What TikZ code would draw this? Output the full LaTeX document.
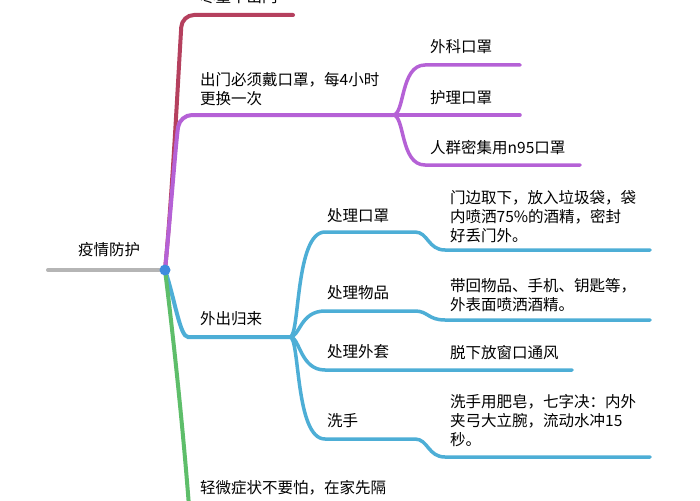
\documentclass[tikz,border=0pt]{standalone}
\usepackage{fontspec}
\setmainfont{Noto Sans CJK SC}
\begin{document}
\begin{tikzpicture}[x=1pt,y=-1pt,
  br/.style={line width=4pt,line cap=round,rounded corners=12pt},
  sub/.style={line width=3.5pt,line cap=round},
  lbl/.style={anchor=north west,inner sep=0pt,font=\fontsize{15.5}{19}\selectfont,align=left}]
\definecolor{cred}{HTML}{B5405E}
\definecolor{cpur}{HTML}{B561D6}
\definecolor{cblu}{HTML}{4DAED6}
\definecolor{cgrn}{HTML}{5EBE6A}
\definecolor{cgry}{HTML}{B5B5B5}
\useasboundingbox (0,0) rectangle (700,500);
\clip (0,0) rectangle (700,500);
\fill[white] (0,0) rectangle (700,500);
% root
\coordinate (root) at (165,270);
\coordinate (gl) at (48,270);
\draw[line width=4pt,cgry,line cap=round] (gl) -- (root);
\node[lbl] (rootl) at (78,242) {疫情防护};
% red
\coordinate (r1) at (293,15);
\draw[br,cred] (root) .. controls (172,200) and (178,80) .. (182,15) -- (r1);
\node[lbl] (rt) at (200,-11) {尽量不出门};
% purple
\coordinate (ph) at (393,115);
\draw[br,cpur] (root) .. controls (170,220) and (176,140) .. (180,115) -- (ph);
\node[lbl] (pt) at (200,72) {出门必须戴口罩，每4小时\\更换一次};
\coordinate (p1) at (520,65);\coordinate (p2) at (520,115);\coordinate (p3) at (580,165);
\draw[sub,cpur] (ph) .. controls (405,115) and (400,65) .. (425,65) -- (p1);
\draw[sub,cpur] (ph) -- (p2);
\draw[sub,cpur] (ph) .. controls (405,115) and (400,165) .. (425,165) -- (p3);
\node[lbl] (pa) at (430,39) {外科口罩};
\node[lbl] (pb) at (430,90) {护理口罩};
\node[lbl] (pc) at (430,140) {人群密集用n95口罩};
% blue
\coordinate (bh) at (290,337);
\draw[br,cblu] (root) .. controls (175,300) and (180,337) .. (200,337) -- (bh);
\node[lbl] (bt) at (200,311) {外出归来};
\coordinate (b1) at (650,250);\coordinate (b2) at (650,320);\coordinate (b3) at (572,370);\coordinate (b4) at (650,457);
\draw[sub,cblu] (bh) .. controls (300,337) and (295,232) .. (325,232) -- (415,232) .. controls (428,232) and (428,250) .. (445,250) -- (b1);
\draw[sub,cblu] (bh) .. controls (300,337) and (300,311) .. (325,311) -- (415,311) .. controls (428,311) and (428,320) .. (445,320) -- (b2);
\draw[sub,cblu] (bh) .. controls (300,337) and (300,370) .. (325,370) -- (b3);
\draw[sub,cblu] (bh) .. controls (300,337) and (295,439) .. (325,439) -- (415,439) .. controls (428,439) and (428,457) .. (445,457) -- (b4);
\node[lbl] (ba) at (327,208) {处理口罩};
\node[lbl] (bb) at (327,285) {处理物品};
\node[lbl] (bc) at (327,344) {处理外套};
\node[lbl] (bd) at (327,413) {洗手};
\node[lbl] (da) at (450,190) {门边取下，放入垃圾袋，袋\\内喷洒75\%的酒精，密封\\好丢门外。};
\node[lbl] (db) at (450,278) {带回物品、手机、钥匙等，\\外表面喷洒酒精。};
\node[lbl] (dc) at (450,345) {脱下放窗口通风};
\node[lbl] (dd) at (450,394) {洗手用肥皂，七字决：内外\\夹弓大立腕，流动水冲15\\秒。};
% green
\coordinate (g1) at (190,520);
\draw[br,cgrn] (root) .. controls (175,350) and (185,450) .. (g1);
\node[lbl] (gt) at (200,480) {轻微症状不要怕，在家先隔};
\fill[cblu!80!blue] (root) circle (5.5pt);
\end{tikzpicture}
\end{document}
